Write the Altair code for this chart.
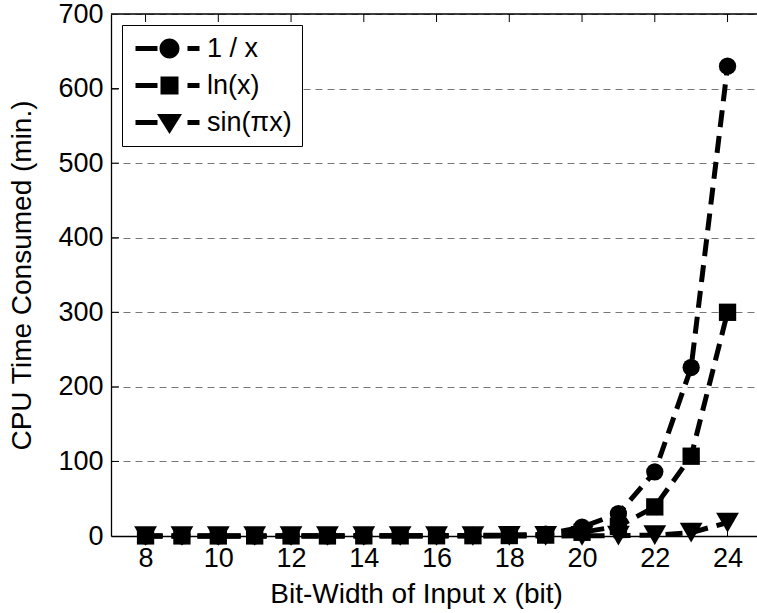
import altair as alt
import pandas as pd

# ---- data ----
bits = list(range(8, 25))
series_names = ["1 / x", "ln(x)", "sin(\u03c0x)"]
recip_vals = [0.1, 0.1, 0.1, 0.1, 0.2, 0.2, 0.3, 0.4, 0.5, 0.8, 1.2, 2.5, 12, 30, 86, 226, 630]
ln_vals = [0.1, 0.1, 0.1, 0.1, 0.1, 0.1, 0.2, 0.2, 0.3, 0.4, 0.6, 1.2, 5, 13, 39, 107, 300]
sin_vals = [0.0, 0.0, 0.0, 0.0, 0.0, 0.0, 0.0, 0.0, 0.0, 0.0, 0.1, 0.1, 0.2, 0.4, 1.2, 4.5, 18]
y_ticks = [0, 100, 200, 300, 400, 500, 600, 700]
x_ticks = [8, 10, 12, 14, 16, 18, 20, 22, 24]

rows = []
for name, vals in zip(series_names, [recip_vals, ln_vals, sin_vals]):
    for b, v in zip(bits, vals):
        rows.append({"bits": b, "cpu": v, "series": name})
df = pd.DataFrame(rows)

W, H = 646, 522
FONT = "Liberation Sans"

xscale = alt.Scale(domain=[7.05, 24.81], nice=False, zero=False)
yscale = alt.Scale(domain=[0, 700], nice=False)

X = alt.X("bits:Q", scale=xscale,
          axis=alt.Axis(values=x_ticks, title="Bit-Width of Input x (bit)", grid=False,
                        ticks=False, labelPadding=9, titlePadding=9, titleX=305))
Y = alt.Y("cpu:Q", scale=yscale,
          axis=alt.Axis(values=y_ticks, title="CPU Time Consumed (min.)", grid=True,
                        ticks=False, labelPadding=8, titlePadding=21,
                        gridDash=[7, 5], gridColor="#777777", gridWidth=1))

base = alt.Chart(df)

lines = base.mark_line(color="black", strokeWidth=5, strokeDash=[17, 9]).encode(
    x=X, y=Y, detail="series:N"
)

marker_defs = [
    ("1 / x", "circle", 300),
    ("ln(x)", "square", 300),
    ("sin(\u03c0x)", "triangle-down", 520),
]
point_layers = []
for name, shp, sz in marker_defs:
    point_layers.append(
        base.transform_filter(alt.datum.series == name)
        .mark_point(shape=shp, size=sz, filled=True, color="black", opacity=1, clip=False)
        .encode(x=alt.X("bits:Q", scale=xscale), y=alt.Y("cpu:Q", scale=yscale))
    )

# legend symbols: dash + marker + dash as custom paths
dashL = "M-3.4,-0.25 L-1.2,-0.25 L-1.2,0.25 L-3.4,0.25 Z "
dashR = "M1.8,-0.25 L3.0,-0.25 L3.0,0.25 L1.8,0.25 Z "
legend_paths = [
    dashL + "M-1,0 A1,1 0 1,0 1,0 A1,1 0 1,0 -1,0 Z " + dashR,
    dashL + "M-0.9,-0.9 L0.9,-0.9 L0.9,0.9 L-0.9,0.9 Z " + dashR,
    dashL + "M-1.25,-0.85 L1.25,-0.85 L0,1.15 Z " + dashR,
]

legend_layer = base.mark_point(filled=True, color="black", opacity=0, size=400).encode(
    x=alt.X("bits:Q", scale=xscale),
    y=alt.Y("cpu:Q", scale=yscale),
    shape=alt.Shape("series:N",
                    scale=alt.Scale(domain=series_names, range=legend_paths),
                    legend=alt.Legend(title=None, orient="none", legendX=11, legendY=11,
                                      symbolSize=400, symbolOffset=24, labelOffset=24,
                                      symbolOpacity=1, symbolFillColor="black",
                                      symbolStrokeColor="black", symbolStrokeWidth=0,
                                      labelFont=FONT, labelFontSize=27, labelColor="black",
                                      rowPadding=9, padding=10, strokeColor="black",
                                      fillColor="white", labelLimit=300)),
)

frame_top = alt.Chart(alt.Data(values=[{"a": 1}])).mark_rule(color="black", strokeWidth=1.3).encode(
    x=alt.value(0), x2=alt.value(W), y=alt.value(0)
)

tick_df = pd.DataFrame({"yt": y_ticks[1:-1]})
y_in_ticks = alt.Chart(tick_df).mark_rule(color="black", strokeWidth=1).encode(
    y=alt.Y("yt:Q", scale=yscale), x=alt.value(0), x2=alt.value(8)
)
xt_df = pd.DataFrame({"xt": x_ticks})
x_top_ticks = alt.Chart(xt_df).mark_rule(color="black", strokeWidth=1).encode(
    x=alt.X("xt:Q", scale=xscale), y=alt.value(0), y2=alt.value(8)
)
x_bot_ticks = alt.Chart(xt_df).mark_rule(color="black", strokeWidth=1).encode(
    x=alt.X("xt:Q", scale=xscale), y=alt.value(H - 8), y2=alt.value(H)
)

chart = alt.layer(
    lines, *point_layers, legend_layer, frame_top, y_in_ticks, x_top_ticks, x_bot_ticks
).properties(
    width=W, height=H,
    autosize=alt.AutoSizeParams(type="none"),
    padding={"left": 111, "top": 14, "right": 0, "bottom": 77},
).configure(background="white").configure_view(stroke=None).configure_axis(
    labelFont=FONT, labelFontSize=27, labelColor="black",
    titleFont=FONT, titleFontSize=28, titleFontWeight="normal", titleColor="black",
    domainColor="black", domainWidth=1.3,
)

chart.save("out.html", embed_options={"renderer": "svg", "actions": False})
